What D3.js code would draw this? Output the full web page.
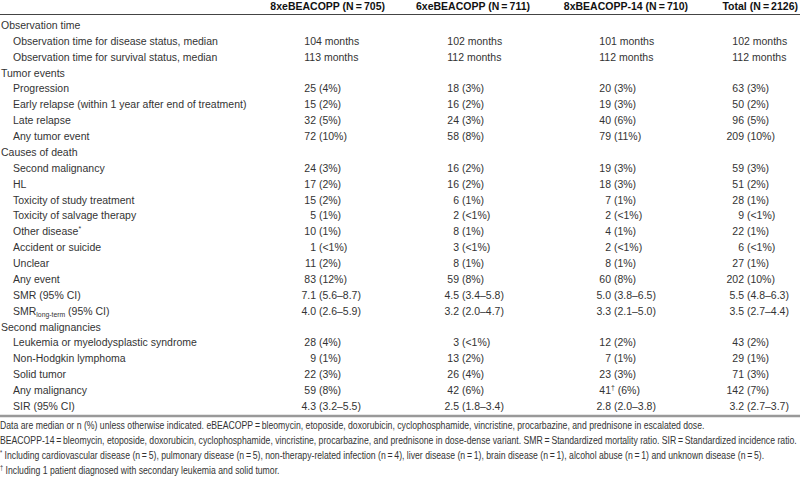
<!DOCTYPE html>
<html>
<head>
<meta charset="utf-8">
<script src="https://cdnjs.cloudflare.com/ajax/libs/d3/7.8.5/d3.min.js"></script>
<style>
  body { margin: 0; background: #fff; }
  svg { display: block; }
  text { font-family: "Liberation Sans", Arial, sans-serif; }
</style>
</head>
<body>
<div id="chart"></div>
<script>
// column headers
var headers = ["8xeBEACOPP (N\u2009=\u2009705)", "6xeBEACOPP (N\u2009=\u2009711)", "8xBEACOPP-14 (N\u2009=\u2009710)", "Total (N\u2009=\u20092126)"];

// row labels, sections have no values
var rowLabels = [
  "Observation time",
  "Observation time for disease status, median",
  "Observation time for survival status, median",
  "Tumor events",
  "Progression",
  "Early relapse (within 1 year after end of treatment)",
  "Late relapse",
  "Any tumor event",
  "Causes of death",
  "Second malignancy",
  "HL",
  "Toxicity of study treatment",
  "Toxicity of salvage therapy",
  "Other disease^{*}",
  "Accident or suicide",
  "Unclear",
  "Any event",
  "SMR (95% CI)",
  "SMR_{long-term} (95% CI)",
  "Second malignancies",
  "Leukemia or myelodysplastic syndrome",
  "Non-Hodgkin lymphoma",
  "Solid tumor",
  "Any malignancy",
  "SIR (95% CI)"
];
var sections = ["Observation time", "Tumor events", "Causes of death", "Second malignancies"];

var col8xe = [null, "104 months", "113 months", null, "25 (4%)", "15 (2%)", "32 (5%)", "72 (10%)", null,
  "24 (3%)", "17 (2%)", "15 (2%)", "5 (1%)", "10 (1%)", "1 (<1%)", "11 (2%)", "83 (12%)",
  "7.1 (5.6\u20138.7)", "4.0 (2.6\u20135.9)", null, "28 (4%)", "9 (1%)", "22 (3%)", "59 (8%)", "4.3 (3.2\u20135.5)"];
var col6xe = [null, "102 months", "112 months", null, "18 (3%)", "16 (2%)", "24 (3%)", "58 (8%)", null,
  "16 (2%)", "16 (2%)", "6 (1%)", "2 (<1%)", "8 (1%)", "3 (<1%)", "8 (1%)", "59 (8%)",
  "4.5 (3.4\u20135.8)", "3.2 (2.0\u20134.7)", null, "3 (<1%)", "13 (2%)", "26 (4%)", "42 (6%)", "2.5 (1.8\u20133.4)"];
var col8x14 = [null, "101 months", "112 months", null, "20 (3%)", "19 (3%)", "40 (6%)", "79 (11%)", null,
  "19 (3%)", "18 (3%)", "7 (1%)", "2 (<1%)", "4 (1%)", "2 (<1%)", "8 (1%)", "60 (8%)",
  "5.0 (3.8\u20136.5)", "3.3 (2.1\u20135.0)", null, "12 (2%)", "7 (1%)", "23 (3%)", "41^{\u2020} (6%)", "2.8 (2.0\u20133.8)"];
var colTotal = [null, "102 months", "112 months", null, "63 (3%)", "50 (2%)", "96 (5%)", "209 (10%)", null,
  "59 (3%)", "51 (2%)", "28 (1%)", "9 (<1%)", "22 (1%)", "6 (<1%)", "27 (1%)", "202 (10%)",
  "5.5 (4.8\u20136.3)", "3.5 (2.7\u20134.4)", null, "43 (2%)", "29 (1%)", "71 (3%)", "142 (7%)", "3.2 (2.7\u20133.7)"];

var footnotes = [
  "Data are median or n (%) unless otherwise indicated. eBEACOPP\u2009=\u2009bleomycin, etoposide, doxorubicin, cyclophosphamide, vincristine, procarbazine, and prednisone in escalated dose.",
  "BEACOPP-14\u2009=\u2009bleomycin, etoposide, doxorubicin, cyclophosphamide, vincristine, procarbazine, and prednisone in dose-dense variant. SMR\u2009=\u2009Standardized mortality ratio. SIR\u2009=\u2009Standardized incidence ratio.",
  "^{*} Including cardiovascular disease (n\u2009=\u20095), pulmonary disease (n\u2009=\u20095), non-therapy-related infection (n\u2009=\u20094), liver disease (n\u2009=\u20091), brain disease (n\u2009=\u20091), alcohol abuse (n\u2009=\u20091) and unknown disease (n\u2009=\u20095).",
  "^{\u2020} Including 1 patient diagnosed with secondary leukemia and solid tumor."
];

var columns = [col8xe, col6xe, col8x14, colTotal];

var width = 800, height = 479;
var fs = 11, fns = 10;
var ink = "#333";

var svg = d3.select("#chart").append("svg")
  .attr("width", width)
  .attr("height", height)
  .style("background-color", "white");

// no narrow font here, so squeeze the text sideways to get the condensed look
function measure(s, size) {
  var p = svg.append("text").style("font-size", size + "px").text(s);
  var w = p.node().getComputedTextLength();
  p.remove();
  return w;
}
var sx = 205 / measure(rowLabels[1], fs);
var sxf = 797 / measure(footnotes[1], fns);

var y = d3.scalePoint().domain(d3.range(rowLabels.length)).range([25, 406]);
var headerEnd = [385, 530, 688, 798];
var numAnchor = [316, 459, 611, 744];

// split "text^{sup}_{sub}" into pieces
function pieces(s) {
  return s.split(/(\^\{[^}]*\}|_\{[^}]*\})/).filter(function(p) { return p !== ""; }).map(function(p) {
    if (p.startsWith("^{")) return {t: p.slice(2, -1), k: "sup"};
    if (p.startsWith("_{")) return {t: p.slice(2, -1), k: "sub"};
    return {t: p, k: "n"};
  });
}

function addRich(sel, s, size) {
  var shift = 0;
  pieces(s).forEach(function(p) {
    var want = p.k == "sup" ? -size * 0.4 : p.k == "sub" ? size * 0.25 : 0;
    var ts = sel.append("tspan").attr("dy", want - shift).text(p.t);
    if (p.k != "n") ts.style("font-size", (size * 0.65) + "px");
    shift = want;
  });
}

svg.append("line").attr("x1", 0).attr("x2", width).attr("y1", 14.5).attr("y2", 14.5)
  .style("stroke", "#444").style("stroke-width", 1.2);
svg.append("line").attr("x1", 0).attr("x2", width).attr("y1", 416).attr("y2", 416)
  .style("stroke", "#999").style("stroke-width", 2.5);

var body = svg.append("g").attr("transform", "scale(" + sx + ",1)");

// header
body.selectAll("text.hdr")
  .data(headers)
  .enter().append("text")
  .attr("class", "hdr")
  .attr("x", function(d, i) { return headerEnd[i] / sx; })
  .attr("y", 10)
  .attr("text-anchor", "end")
  .style("font-size", fs + "px")
  .style("font-weight", "bold")
  .style("fill", "#111")
  .text(function(d) { return d; });

// row labels
body.selectAll("text.lbl")
  .data(rowLabels)
  .enter().append("text")
  .attr("class", "lbl")
  .attr("x", function(d) { return (sections.indexOf(d) >= 0 ? 1 : 13) / sx; })
  .attr("y", function(d, i) { return y(i) + 4; })
  .style("font-size", fs + "px")
  .style("fill", ink)
  .each(function(d) { addRich(d3.select(this), d, fs); });

// width of two digits, for the "months" rows
var twoDigits = measure("00", fs);

columns.forEach(function(col, ci) {
  body.selectAll("text.c" + ci)
    .data(col.map(function(v, i) { return {v: v, i: i}; }).filter(function(d) { return d.v; }))
    .enter().append("text")
    .attr("class", "c" + ci)
    .attr("y", function(d) { return y(d.i) + 4; })
    .style("font-size", fs + "px")
    .style("fill", ink)
    .each(function(d) {
      var t = d3.select(this);
      if (d.v.indexOf("(") < 0) {
        t.attr("x", numAnchor[ci] / sx - twoDigits).text(d.v);
        return;
      }
      var m = d.v.match(/^([0-9.]+)(.*)$/);
      var num = t.append("tspan").text(m[1]);
      addRich(t, m[2], fs);
      t.attr("x", numAnchor[ci] / sx - num.node().getComputedTextLength());
    });
});

// footnotes
var notes = svg.append("g").attr("transform", "scale(" + sxf + ",1)");
notes.selectAll("text.fn")
  .data(footnotes)
  .enter().append("text")
  .attr("class", "fn")
  .attr("x", 0)
  .attr("y", function(d, i) { return 429.5 + i * 15; })
  .style("font-size", fns + "px")
  .style("fill", ink)
  .each(function(d) { addRich(d3.select(this), d, fns); });
</script>
</body>
</html>
